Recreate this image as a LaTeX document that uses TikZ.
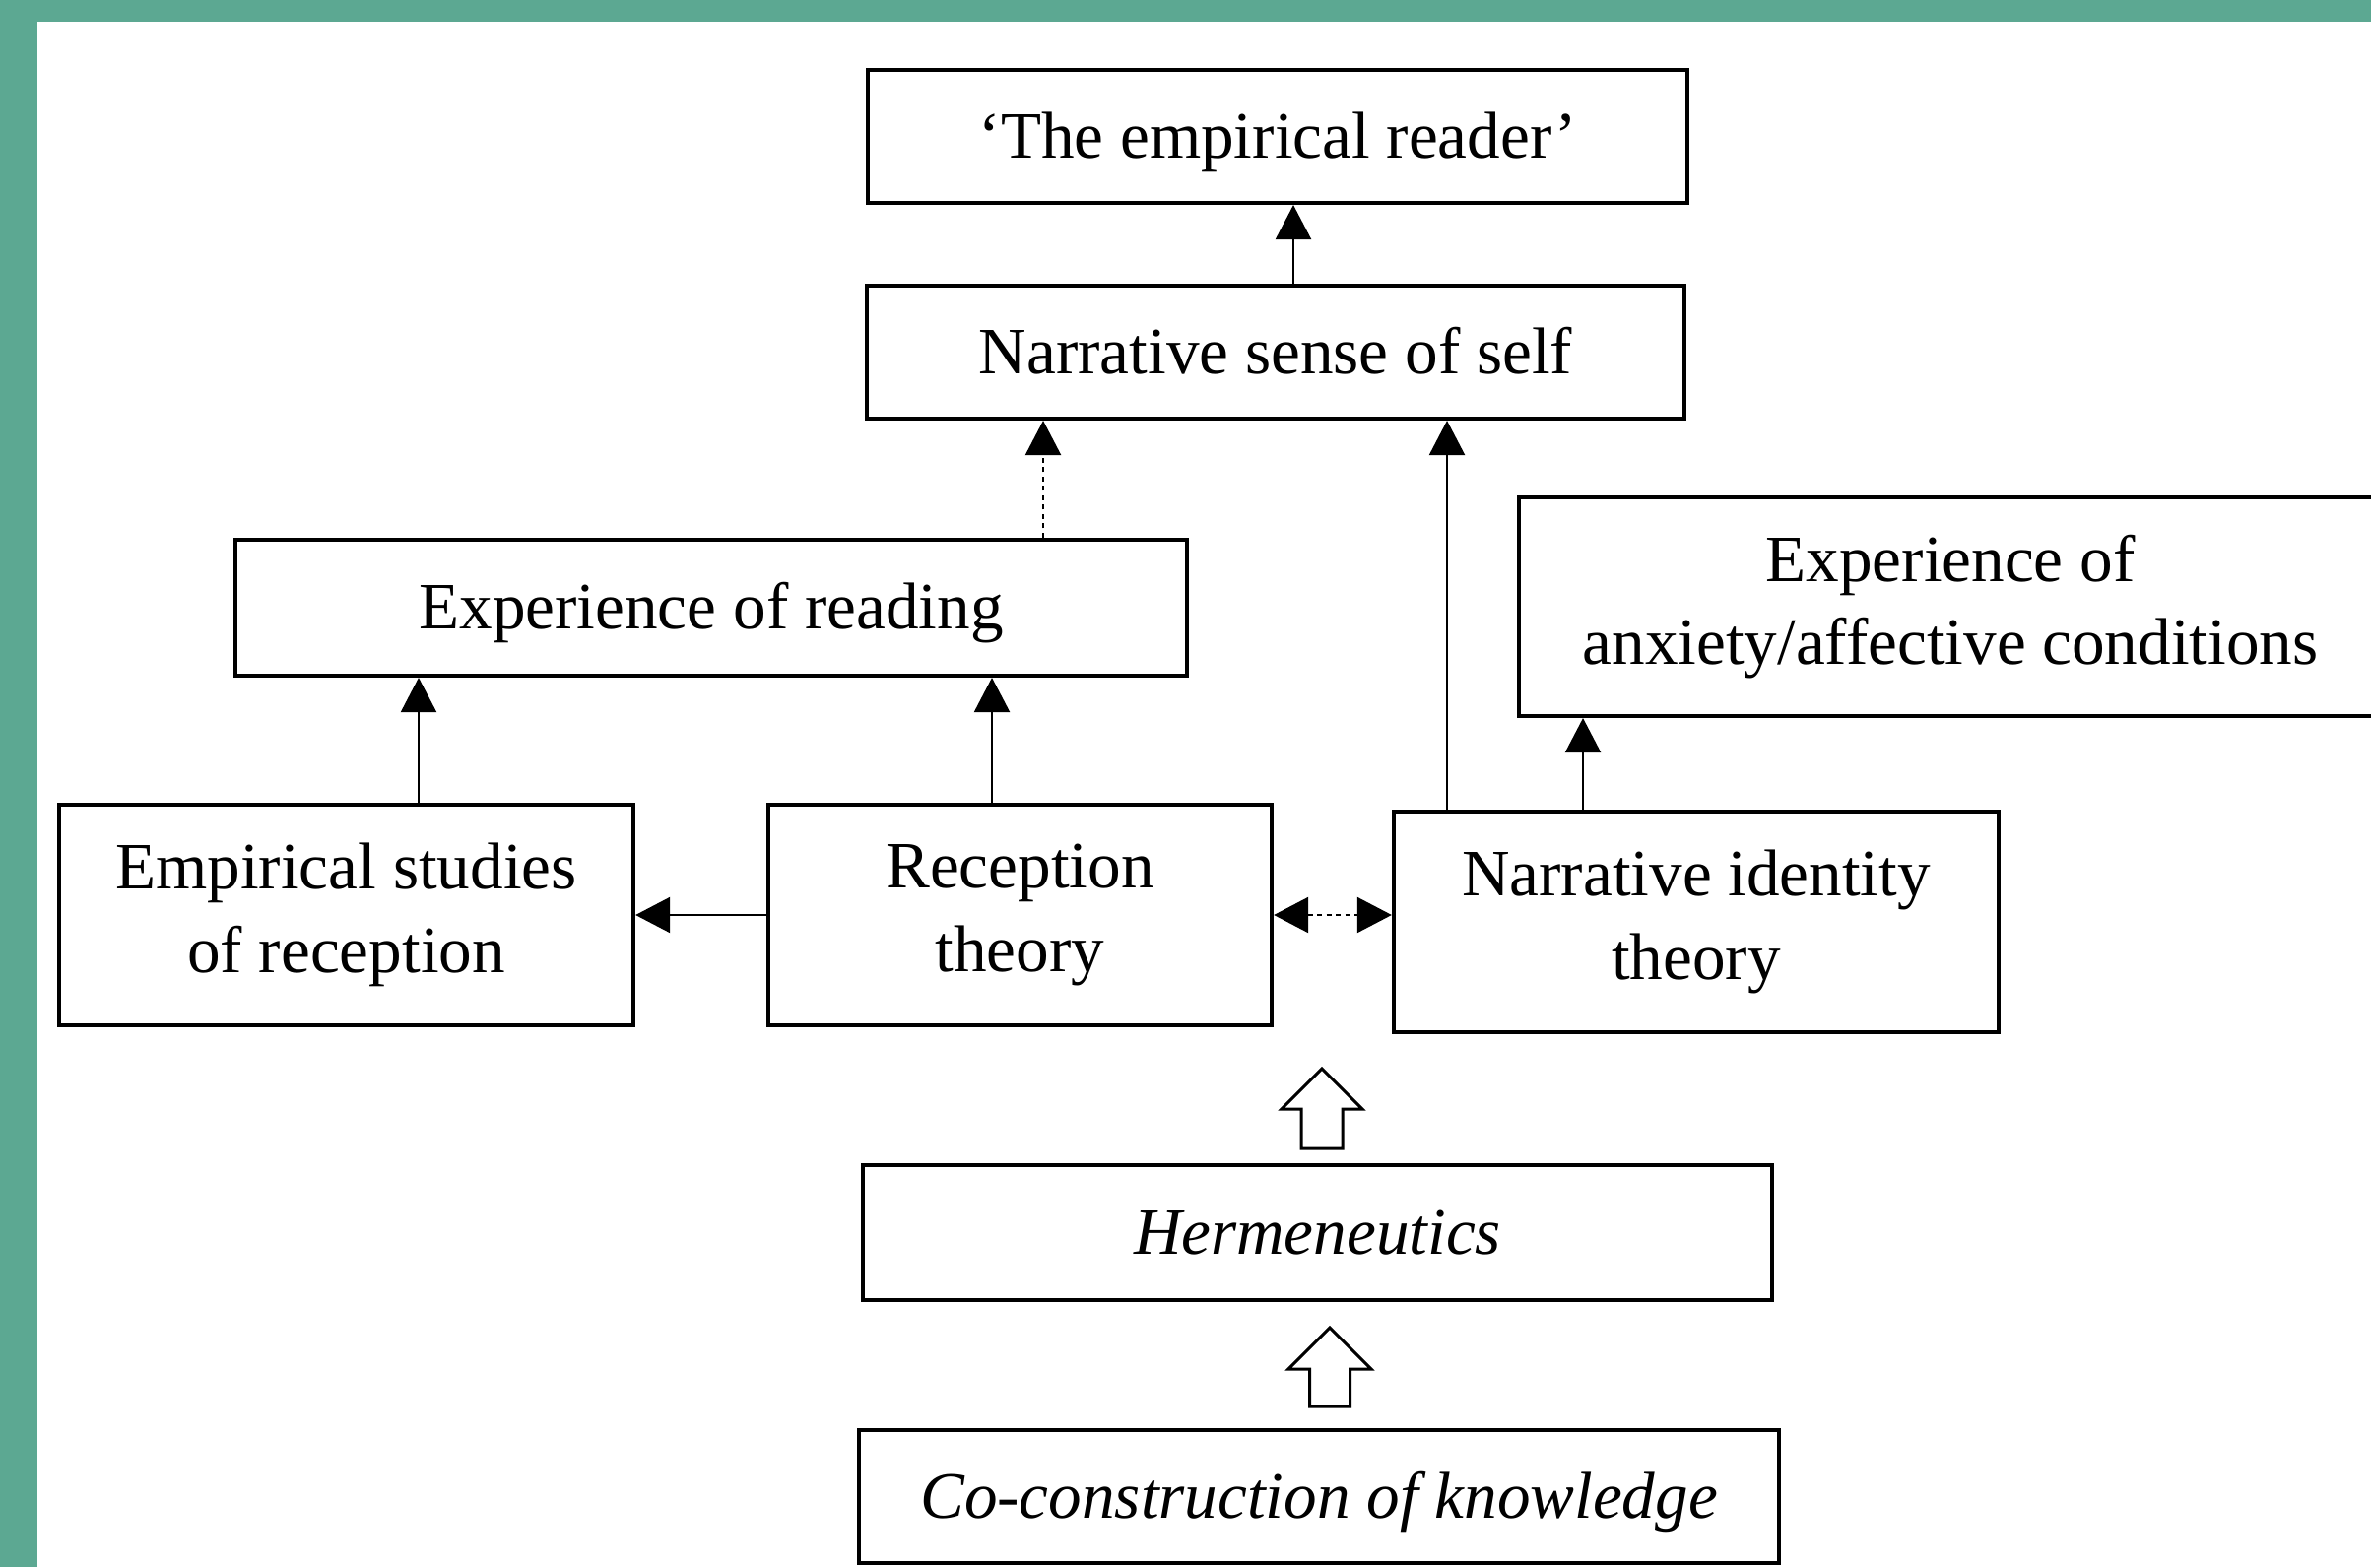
\documentclass[tikz,border=0pt]{standalone}
\usepackage{fontspec}
\setmainfont{Liberation Serif}
\usetikzlibrary{arrows.meta,calc}
\definecolor{framegreen}{RGB}{92,168,146}
\begin{document}
\begin{tikzpicture}[x=0.01cm,y=-0.01cm,
  box/.style={draw=black,line width=0.04cm,inner sep=0pt,align=center,
    font=\fontsize{19.1}{24}\selectfont},
  oneline/.style={text height=12.5pt,text depth=0pt},
  arr/.style={line width=0.022cm,-{Triangle[length=0.35cm,width=0.36cm]}},
  dasharr/.style={arr,dash pattern=on 0.05cm off 0.045cm},
  biarr/.style={line width=0.022cm,{Triangle[length=0.35cm,width=0.36cm]}-{Triangle[length=0.35cm,width=0.36cm]},dash pattern=on 0.05cm off 0.045cm},
  hollow/.style={line width=0.03cm,draw=black,fill=white,line join=miter}]
\useasboundingbox (0,0) rectangle (2407,1591);
\fill[framegreen] (0,0) rectangle (2407,1591);
\fill[white] (38,22) rectangle (2407,1591);

\node[box,oneline,minimum width=8.32cm,minimum height=1.35cm] (reader) at (1297,138.5) {‘The empirical reader’};
\node[box,oneline,minimum width=8.30cm,minimum height=1.35cm] (self) at (1295,357.5) {Narrative sense of self};
\node[box,oneline,minimum width=9.66cm,minimum height=1.38cm] (reading) at (722,617) {Experience of reading};
\node[box,minimum width=8.76cm,minimum height=2.22cm] (anxiety) at (1980,616) {Experience of\\anxiety/affective conditions};
\node[box,minimum width=5.83cm,minimum height=2.24cm] (empirical) at (351.5,929) {Empirical studies\\of reception};
\node[box,minimum width=5.11cm,minimum height=2.24cm] (reception) at (1035.5,929) {Reception\\theory};
\node[box,minimum width=6.14cm,minimum height=2.24cm] (identity) at (1722,936) {Narrative identity\\theory};
\node[box,oneline,minimum width=9.23cm,minimum height=1.37cm] (herm) at (1337.5,1251.5) {\itshape Hermeneutics};
\node[box,oneline,minimum width=9.34cm,minimum height=1.35cm] (cocon) at (1339,1519.5) {\itshape Co-construction of knowledge};

% connector start points
\path ($(self.north)+(18,0)$) coordinate (c1)
      ($(reading.north)+(337,0)$) coordinate (c2)
      ($(identity.north)+(-253,0)$) coordinate (c3)
      ($(identity.north)+(-115,0)$) coordinate (c4)
      ($(reception.north)+(-28.5,0)$) coordinate (c6)
      ($(empirical.north)+(73.5,0)$) coordinate (c7);

\draw[arr] (c1) -- (c1 |- reader.south);
\draw[dasharr] (c2) -- (c2 |- self.south);
\draw[arr] (c3) -- (c3 |- self.south);
\draw[arr] (c4) -- (c4 |- anxiety.south);
\draw[arr] (reception.west) -- (empirical.east);
\draw[arr] (c6) -- (c6 |- reading.south);
\draw[arr] (c7) -- (c7 |- reading.south);
\draw[biarr] (reception.east) -- (reception.east -| identity.west);

% hollow block arrows
\coordinate (hA) at (1342,1085);
\draw[hollow] (hA) -- ++(41,41) -- ++(-20,0) -- ++(0,40) -- ++(-42,0) -- ++(0,-40) -- ++(-20,0) -- cycle;
\coordinate (hB) at (1350,1348);
\draw[hollow] (hB) -- ++(42,42) -- ++(-21.5,0) -- ++(0,38) -- ++(-41,0) -- ++(0,-38) -- ++(-21.5,0) -- cycle;
\end{tikzpicture}
\end{document}
